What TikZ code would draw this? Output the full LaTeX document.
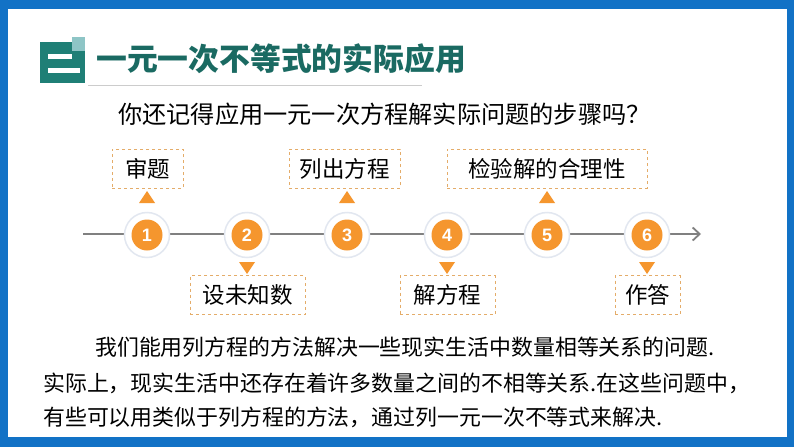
\documentclass[tikz,border=0pt]{standalone}
\usepackage{fontspec}
\usepackage{tikz}
\usetikzlibrary{arrows,arrows.meta}
\usetikzlibrary{shapes}
\usetikzlibrary{calc}
\newfontfamily\cjk{Noto Sans CJK SC}
\newfontfamily\numfont{Liberation Sans}
\definecolor{frameblue}{RGB}{18,114,198}
\definecolor{titleteal}{RGB}{26,106,98}
\definecolor{iconteal}{RGB}{31,127,118}
\definecolor{iconlight}{RGB}{142,197,198}
\definecolor{steporange}{RGB}{245,150,46}
\definecolor{boxorange}{RGB}{228,172,105}
\definecolor{linegray}{RGB}{128,128,128}
\definecolor{halogray}{RGB}{226,231,240}
\tikzset{
  halo/.style={circle,fill=white,draw=halogray,line width=1.5pt,minimum size=45pt,inner sep=0pt},
  stepdot/.style={circle,fill=steporange,minimum size=31pt,inner sep=0pt,text=white,font=\numfont\bfseries\fontsize{18}{18}\selectfont},
  stepbox/.style={draw=boxorange,dashed,line width=0.8pt,fill=white,minimum height=39pt,inner sep=0pt,font=\cjk\fontsize{22.5}{22.5}\selectfont},
  bodytext/.style={anchor=west,inner sep=0pt,font=\cjk\fontsize{21.9}{22}\selectfont}
}
\begin{document}
\begin{tikzpicture}[x=1pt,y=-1pt]%timeline of steps
\useasboundingbox (0,0) rectangle (794,447);
\fill[frameblue] (0,0) rectangle (794,447);
\fill[white] (8,9) rectangle (787,437);
% header
\fill[iconteal] (40,42) rectangle (85,83);
\fill[iconlight] (72,37) rectangle (85,51);
\fill[white] (48,54) rectangle (72,59);
\fill[white] (48,68) rectangle (80,73);
\node[anchor=west,inner sep=0pt,text=titleteal,font=\cjk\bfseries\fontsize{30.8}{31}\selectfont] (title) at (96,59) {一元一次不等式的实际应用};
\draw[gray!40,line width=1pt] (88,85) -- (422,85);
\node[anchor=west,inner sep=0pt,font=\cjk\fontsize{24.2}{24}\selectfont] (ask) at (118,114) {你还记得应用一元一次方程解实际问题的步骤吗？};
% timeline
\coordinate (lstart) at (83,234);
\coordinate (lend) at (701,234);
\draw[linegray,line width=1.8pt,-{Straight Barb[length=7pt,width=13pt]}] (lstart) -- (lend);
\foreach \i/\x in {1/147,2/247,3/347,4/447,5/547,6/647} {
  \node[halo] (h\i) at (\x,235) {};
  \node[stepdot] (c\i) at (\x,235) {\i};
}
\foreach \x in {147,347,547} {\fill[steporange] (\x-8,203) -- (\x+8,203) -- (\x,191) -- cycle;}
\foreach \x in {247,447,647} {\fill[steporange] (\x-8,262) -- (\x+8,262) -- (\x,274) -- cycle;}
\node[stepbox,minimum width=71pt] (b1) at (147.5,168.5) {审题};
\node[stepbox,minimum width=111pt] (b3) at (344.5,168.5) {列出方程};
\node[stepbox,minimum width=200pt] (b5) at (547,168.5) {检验解的合理性};
\node[stepbox,minimum width=115pt] (b2) at (247.5,295) {设未知数};
\node[stepbox,minimum width=95pt] (b4) at (447.5,295) {解方程};
\node[stepbox,minimum width=65pt] (b6) at (647.5,295) {作答};
% text
\node[bodytext] (p1) at (95,347) {我们能用列方程的方法解决一些现实生活中数量相等关系的问题.};
\node[bodytext] (p2) at (43,383) {实际上，现实生活中还存在着许多数量之间的不相等关系.在这些问题中，};
\node[bodytext] (p3) at (43,417) {有些可以用类似于列方程的方法，通过列一元一次不等式来解决.};
\end{tikzpicture}
\end{document}
